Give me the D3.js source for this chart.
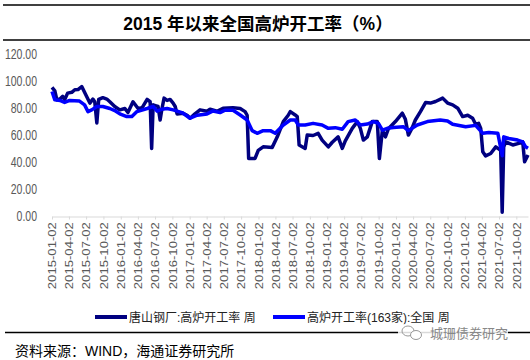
<!DOCTYPE html>
<html><head><meta charset="utf-8">
<script src="https://cdn.jsdelivr.net/npm/d3@7"></script>
<style>
body{margin:0;background:#fff;}
svg{display:block;}
text{font-family:"Liberation Sans","Noto Sans CJK SC",sans-serif;}
</style></head>
<body><svg id="c" width="530" height="360"></svg>
<script>
const chartTitle = "2015 年以来全国高炉开工率（%）";
const seriesNames = ["唐山钢厂:高炉开工率 周", "高炉开工率(163家):全国 周"];
const sourceText = "资料来源：WIND，海通证券研究所";
const watermark = "城珊债券研究";

const yTicks = [0, 20, 40, 60, 80, 100, 120];
const xTicks = ["2015-01-02","2015-04-02","2015-07-02","2015-10-02","2016-01-02","2016-04-02","2016-07-02","2016-10-02",
  "2017-01-02","2017-04-02","2017-07-02","2017-10-02","2018-01-02","2018-04-02","2018-07-02","2018-10-02",
  "2019-01-02","2019-04-02","2019-07-02","2019-10-02","2020-01-02","2020-04-02","2020-07-02","2020-10-02",
  "2021-01-02","2021-04-02","2021-07-02","2021-10-02"];

const tsDates = ["2015-01-02","2015-01-17","2015-01-28","2015-02-13","2015-02-28","2015-03-10","2015-03-26","2015-04-17","2015-05-03","2015-05-20",
  "2015-06-09","2015-07-01","2015-07-22","2015-08-07","2015-08-17","2015-08-28","2015-09-07","2015-09-29","2015-10-20","2015-11-05",
  "2015-12-01","2015-12-28","2016-01-24","2016-02-09","2016-03-07","2016-03-23","2016-04-03","2016-04-24","2016-05-21","2016-06-06",
  "2016-06-14","2016-06-22","2016-07-08","2016-07-18","2016-07-29","2016-08-08","2016-08-19","2016-09-04","2016-09-20","2016-10-06",
  "2016-10-17","2016-10-27","2016-11-28","2016-12-19","2017-01-04","2017-01-30","2017-02-26","2017-04-04","2017-04-20","2017-05-27",
  "2017-06-28","2017-08-20","2017-09-27","2017-10-23","2017-11-03","2017-11-11","2017-12-15","2018-01-01","2018-01-27","2018-03-16",
  "2018-04-12","2018-05-14","2018-06-09","2018-06-20","2018-07-16","2018-07-27","2018-08-06","2018-09-07","2018-09-18","2018-10-19",
  "2018-11-15","2018-12-06","2019-01-08","2019-01-29","2019-03-01","2019-03-23","2019-04-08","2019-05-15","2019-06-11","2019-06-27",
  "2019-07-13","2019-08-03","2019-08-29","2019-09-25","2019-10-06","2019-10-22","2019-11-07","2019-11-23","2019-12-30","2020-02-05",
  "2020-02-21","2020-03-08","2020-03-29","2020-04-14","2020-05-11","2020-06-07","2020-07-03","2020-07-30","2020-09-06","2020-10-02",
  "2020-10-29","2020-11-25","2020-12-21","2021-01-17","2021-02-12","2021-02-28","2021-03-16","2021-03-27","2021-04-07","2021-04-22",
  "2021-05-19","2021-06-15","2021-07-11","2021-07-19","2021-07-27","2021-08-07","2021-09-13","2021-10-15","2021-11-05","2021-11-15",
  "2021-12-03"];
const tsValues = [95.6,93,86.4,87,89,86.5,91.4,92,93.9,94,
  96.3,90,84,87,85,69.3,86.7,88,87,85,
  81.5,79,80,77,85,82,80,80.5,86.7,85,
  50.4,82.7,82,81.5,71.5,80,87.7,86,86.7,84,
  81.5,76,76.5,75,72.8,76,79,78,79.5,78,
  80.2,80.5,80,77.7,75,43,43,49,51.6,51.2,
  59,70.3,75,77.7,75.2,74,52.9,50.4,60.3,60,
  61.6,56.6,51.6,55,59,50.4,56,65.3,70.3,65.3,
  56.6,59,70.3,70.3,43,64,59,65,70.3,76.5,
  72,60.3,66,71.5,77.7,84.4,84,85.2,87.7,84,
  82.7,80.2,74,75,72.8,68.3,69,65.3,47.9,44.9,
  46.7,51.6,49,3.2,51.6,55.3,53,54.2,55.3,40.5,
  45.5];

const natDates = ["2015-01-02","2015-01-17","2015-02-13","2015-03-10","2015-04-06","2015-05-28","2015-06-24","2015-07-12","2015-08-01","2015-08-28",
  "2015-09-29","2015-11-05","2015-12-01","2015-12-28","2016-02-03","2016-03-01","2016-03-28","2016-05-21","2016-06-22","2016-07-13",
  "2016-08-08","2016-09-04","2016-10-06","2016-11-22","2017-01-04","2017-02-11","2017-04-04","2017-05-06","2017-06-12","2017-07-09",
  "2017-08-20","2017-09-27","2017-11-03","2017-11-30","2017-12-26","2018-01-27","2018-03-06","2018-04-01","2018-05-14","2018-06-20",
  "2018-07-16","2018-08-01","2018-09-07","2018-10-19","2018-12-06","2019-01-08","2019-02-14","2019-03-23","2019-04-23","2019-05-31",
  "2019-06-27","2019-08-03","2019-09-04","2019-10-01","2019-10-22","2019-11-17","2019-12-19","2020-02-10","2020-03-08","2020-04-24",
  "2020-06-17","2020-08-24","2020-10-02","2020-10-29","2021-01-06","2021-02-28","2021-04-07","2021-05-09","2021-06-26","2021-07-19",
  "2021-07-27","2021-08-23","2021-10-09","2021-11-05","2021-11-20","2021-12-03"];
const natValues = [92.6,86.4,86,84.5,86,85.5,82.7,77.7,79,81.5,
  81.5,80,78.5,76,74,74,77.7,80,81.5,78,
  79.5,80,79,77,72.8,75,76,78.2,77,78.7,
  78.7,75.2,71.5,63.6,61.6,63.6,63.6,61.6,67.8,71.5,
  71.5,67.8,67.8,69,67.8,65.3,65.8,64.6,70.3,71.5,
  67.8,68.5,70.3,69,64,65.3,66,66.5,63.6,67.8,
  70.3,71.5,70.8,68.3,66.5,67.5,61.6,62.2,61.6,45,
  59,57.8,56.6,55.3,51.6,50.5];

const colors = ["#000080", "#0000ff"];

const parse = d3.timeParse("%Y-%m-%d");
const svg = d3.select("#c");

// frame lines
svg.append("line").attr("x1",3).attr("x2",530).attr("y1",5).attr("y2",5).attr("stroke","#000").attr("stroke-width",1.5);
svg.append("line").attr("x1",3).attr("x2",530).attr("y1",40).attr("y2",40).attr("stroke","#000").attr("stroke-width",1.5);
svg.append("text").attr("x",258).attr("y",30).attr("text-anchor","middle")
  .attr("font-size",17.5).attr("font-weight","bold").attr("fill","#000").text(chartTitle);

const x = d3.scaleTime().domain([parse("2015-01-02"), parse("2021-12-03")]).range([52, 528]);
const y = d3.scaleLinear().domain([0, 120]).range([216.5, 54.5]);

// y axis
const ya = svg.append("g").attr("transform","translate(52,0)")
  .call(d3.axisLeft(y).tickValues(yTicks).tickFormat(d3.format(".2f")).tickSize(0));
ya.select(".domain").remove();
ya.selectAll("text").attr("x",-20).attr("transform","scale(0.75,1)")
  .attr("font-size",14).attr("fill","#595959").style("font-family","Liberation Sans");

// x axis
const xa = svg.append("g").attr("transform","translate(0,216.5)")
  .call(d3.axisBottom(x).tickValues(xTicks.map(parse)).tickFormat(d3.timeFormat("%Y-%m-%d")).tickSize(3).tickSizeOuter(0));
xa.select(".domain").attr("stroke","#d9d9d9");
xa.selectAll(".tick line").attr("stroke","#d9d9d9");
xa.selectAll("text").attr("transform","rotate(-90) scale(1.25,1)")
  .attr("text-anchor","end").attr("x",-4.5).attr("y",0).attr("dy","0.35em")
  .attr("font-size",10.5).attr("fill","#595959").style("font-family","Liberation Sans");

const line = d3.line().x(d => x(d[0])).y(d => y(d[1])).curve(d3.curveLinear);
const ts = tsDates.map((d,i) => [parse(d), tsValues[i]]);
const nat = natDates.map((d,i) => [parse(d), natValues[i]]);
svg.append("path").datum(ts).attr("d",line).attr("fill","none").attr("stroke",colors[0])
  .attr("stroke-width",3.5).attr("stroke-linejoin","round");
svg.append("path").datum(nat).attr("d",line).attr("fill","none").attr("stroke",colors[1])
  .attr("stroke-width",3.5).attr("stroke-linejoin","round");

// legend
const legX = [95, 273];
seriesNames.forEach((n,i) => {
  svg.append("line").attr("x1",legX[i]).attr("x2",legX[i]+32).attr("y1",317).attr("y2",317)
    .attr("stroke",colors[i]).attr("stroke-width",4);
  svg.append("text").attr("x",legX[i]+34).attr("y",321.5).attr("font-size",12).attr("fill","#222").text(n);
});

// bottom line + watermark
svg.append("line").attr("x1",5).attr("x2",530).attr("y1",332.5).attr("y2",332.5).attr("stroke","#000").attr("stroke-width",1.5);
svg.append("rect").attr("x",398).attr("y",324).attr("width",110).attr("height",18).attr("fill","#fff").attr("opacity",0.85);
svg.append("ellipse").attr("cx",408).attr("cy",331).attr("rx",6).attr("ry",5).attr("fill","none").attr("stroke","#999").attr("stroke-width",1);
svg.append("ellipse").attr("cx",416).attr("cy",335).attr("rx",5.5).attr("ry",4.5).attr("fill","#fff").attr("stroke","#999").attr("stroke-width",1);
svg.append("text").attr("x",430).attr("y",338).attr("font-size",13).attr("fill","#888").text(watermark);

svg.append("text").attr("x",15).attr("y",356).attr("font-size",14).attr("fill","#000").text(sourceText);
</script></body></html>
